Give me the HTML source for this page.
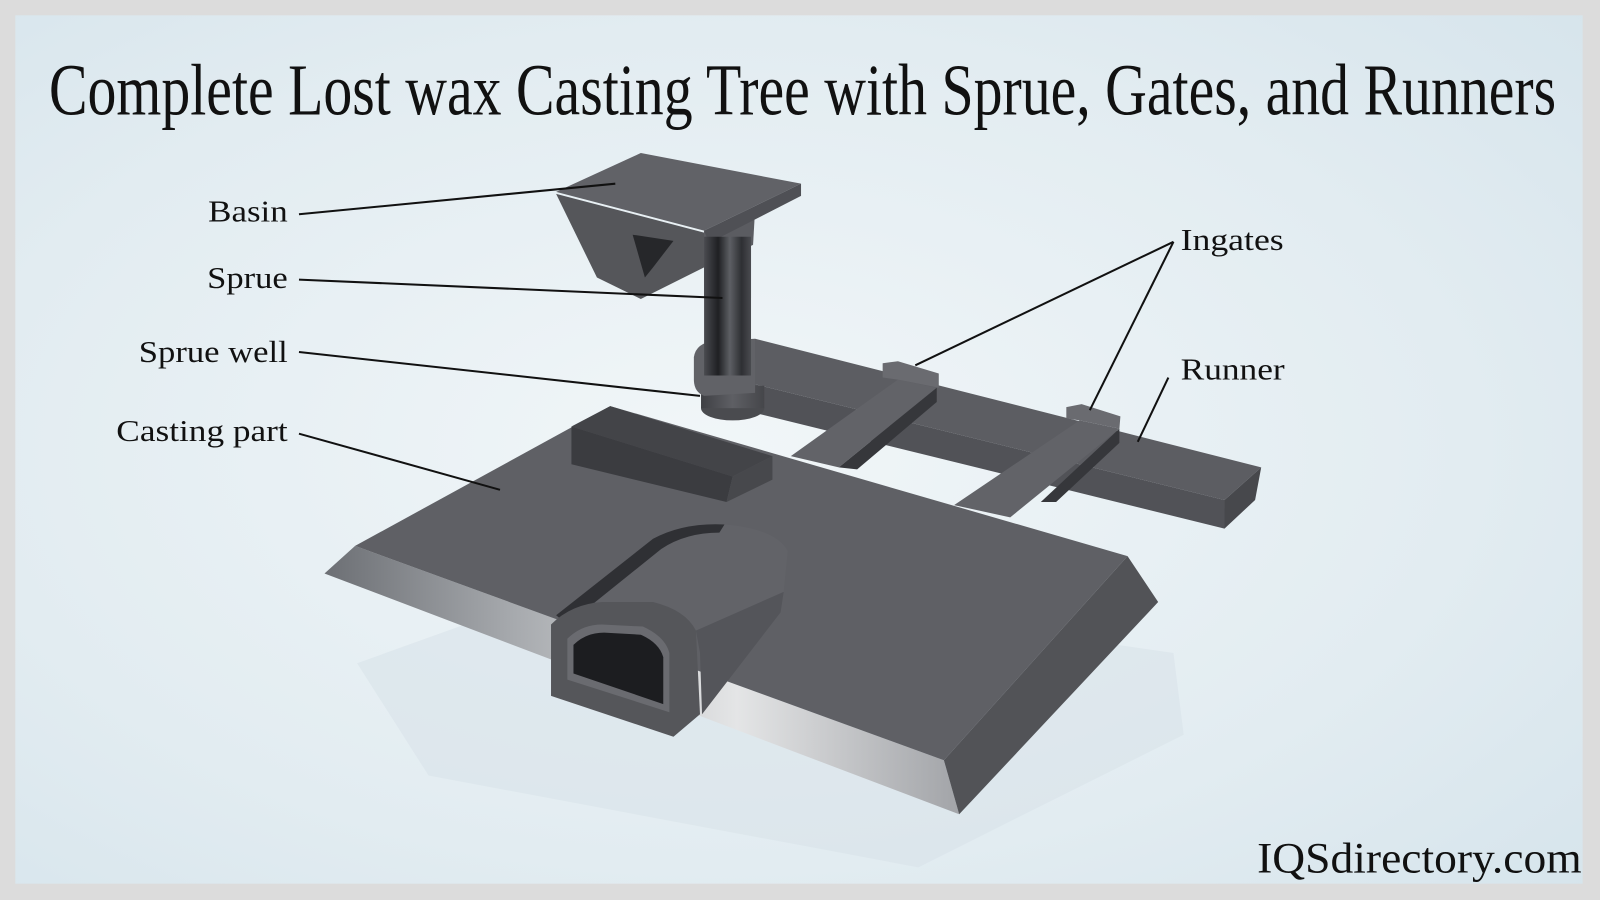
<!DOCTYPE html>
<html><head><meta charset="utf-8"><style>
html,body{margin:0;padding:0;width:1600px;height:900px;overflow:hidden;background:#dcdcdc}
svg{display:block}
</style></head><body>
<svg width="1600" height="900" viewBox="0 0 1568 882" preserveAspectRatio="none" xmlns="http://www.w3.org/2000/svg">
<defs>
<radialGradient id="bg" cx="0.45" cy="0.5" r="0.8">
<stop offset="0" stop-color="#f1f6f8"/><stop offset="0.6" stop-color="#e2ecf1"/><stop offset="1" stop-color="#d4e3eb"/>
</radialGradient>
<linearGradient id="front" gradientUnits="userSpaceOnUse" x1="318" y1="0" x2="940" y2="0">
<stop offset="0" stop-color="#6c6f74"/><stop offset="0.3" stop-color="#a7aaae"/><stop offset="0.65" stop-color="#e4e5e6"/><stop offset="1" stop-color="#a2a4a8"/>
</linearGradient>
<linearGradient id="sprue" x1="0" y1="0" x2="1" y2="0">
<stop offset="0" stop-color="#4a4b50"/><stop offset="0.3" stop-color="#1f2023"/><stop offset="0.55" stop-color="#5d5f64"/><stop offset="0.8" stop-color="#2e2f33"/><stop offset="1" stop-color="#4a4b50"/>
</linearGradient>
<linearGradient id="well" x1="0" y1="0" x2="1" y2="0">
<stop offset="0" stop-color="#3f4044"/><stop offset="0.5" stop-color="#5e5f64"/><stop offset="1" stop-color="#45464a"/>
</linearGradient>
</defs>
<rect x="0" y="0" width="1568" height="882" fill="#dcdcdc"/>
<rect x="15" y="15" width="1536" height="851" fill="url(#bg)"/>
<polygon points="350,650 600,560 1150,640 1160,720 900,850 420,760" fill="#d8e3e9" opacity="0.6"/>

<text x="48" y="112" font-family="Liberation Serif, serif" font-size="72" fill="#111" textLength="1477" lengthAdjust="spacingAndGlyphs">Complete Lost wax Casting Tree with Sprue, Gates, and Runners</text>

<!-- Runner -->
<polygon points="740,332 1236,458 1200,490 705,368" fill="#5c5d62"/>
<polygon points="705,368 1200,490 1200,518 705,396" fill="#515257"/>
<polygon points="1200,490 1236,458 1230,490 1200,518" fill="#47484c"/>
<!-- ingate bars -->
<polygon points="880,372 918,380 822,458 775,447" fill="#626368"/>
<polygon points="918,380 918,394 840,460 822,458" fill="#36373b"/>
<polygon points="865,356 880,354 920,366 920,380 880,372 865,370" fill="#6a6b70"/>
<polygon points="1058,412 1097,420 990,507 935,495" fill="#626368"/>
<polygon points="1097,420 1097,434 1035,492 1020,492" fill="#36373b"/>
<polygon points="1045,399 1060,396 1098,408 1097,420 1058,412 1045,410" fill="#6a6b70"/>

<!-- Plate -->
<polygon points="318,562 348,535 925,745 940,798" fill="url(#front)"/>
<polygon points="348,535 598,398 1105,545 925,745" fill="#5f6065"/>
<polygon points="1105,545 1135,590 940,798 925,745" fill="#525357"/>
<!-- dark block -->
<polygon points="560,418 598,398 757,447 718,467" fill="#434448"/>
<polygon points="560,418 718,467 712,492 560,455" fill="#3b3c40"/>
<polygon points="718,467 757,447 757,470 712,492" fill="#47484c"/>
<!-- tunnel hood -->
<path d="M545,603 L640,528 Q670,512 710,514 Q760,518 772,540 L768,580 L690,645 L682,618 Z" fill="#626368"/>
<path d="M545,603 L640,528 Q670,512 710,514 L705,522 Q672,522 648,538 L556,612 Z" fill="#2f3034"/>
<path d="M682,618 L768,580 L765,600 L688,700 L686,640 Z" fill="#54555a"/>
<!-- tunnel front -->
<path d="M540,612 Q560,592 590,590 L640,590 Q672,598 682,618 L686,700 L660,722 L540,682 Z" fill="#55565a"/>
<path d="M556,626 Q570,612 590,612 L630,614 Q652,624 656,640 L656,698 L556,666 Z" fill="#6a6b70"/>
<path d="M562,632 Q574,620 592,620 L628,622 Q646,630 650,644 L650,690 L562,660 Z" fill="#1c1d20"/>

<!-- sprue well -->
<ellipse cx="718" cy="400" rx="31" ry="12" fill="#4a4b4f"/>
<rect x="687" y="378" width="62" height="22" fill="url(#well)"/>
<path d="M680,350 Q682,336 700,334 L740,332 L740,385 L690,388 Q680,384 680,372 Z" fill="#616267"/>
<!-- sprue -->
<rect x="690" y="226" width="46" height="142" fill="url(#sprue)"/>
<!-- basin -->
<polygon points="545,190 690,228 690,262 628,293 585,272" fill="#55565a"/>
<polygon points="620,230 660,236 640,262 632,272" fill="#26272a"/>
<polygon points="690,228 740,205 738,240 690,262" fill="#5b5c61"/>
<polygon points="545,188 628,150 785,180 690,226" fill="#616267"/>
<polygon points="690,226 785,180 785,192 695,238" fill="#4f5055"/>
<rect x="690" y="232" width="46" height="60" fill="url(#sprue)"/>

<!-- leader lines -->
<g stroke="#111" stroke-width="2" fill="none">
<line x1="293" y1="210" x2="603" y2="180"/>
<line x1="293" y1="274" x2="708" y2="292"/>
<line x1="293" y1="345" x2="686" y2="388"/>
<line x1="293" y1="425" x2="490" y2="480"/>
<line x1="1150" y1="237" x2="897" y2="358"/>
<line x1="1150" y1="237" x2="1068" y2="402"/>
<line x1="1145" y1="370" x2="1115" y2="433"/>
</g>
<g font-family="Liberation Serif, serif" font-size="30" fill="#111">
<text x="204" y="217" textLength="78" lengthAdjust="spacingAndGlyphs">Basin</text>
<text x="203" y="282" textLength="79" lengthAdjust="spacingAndGlyphs">Sprue</text>
<text x="136" y="355" textLength="146" lengthAdjust="spacingAndGlyphs">Sprue well</text>
<text x="114" y="432" textLength="168" lengthAdjust="spacingAndGlyphs">Casting part</text>
<text x="1157" y="245" textLength="101" lengthAdjust="spacingAndGlyphs">Ingates</text>
<text x="1157" y="372" textLength="102" lengthAdjust="spacingAndGlyphs">Runner</text>
</g>
<text x="1232" y="855" font-family="Liberation Serif, serif" font-size="42" fill="#111" textLength="318" lengthAdjust="spacingAndGlyphs">IQSdirectory.com</text>
</svg>
</body></html>
